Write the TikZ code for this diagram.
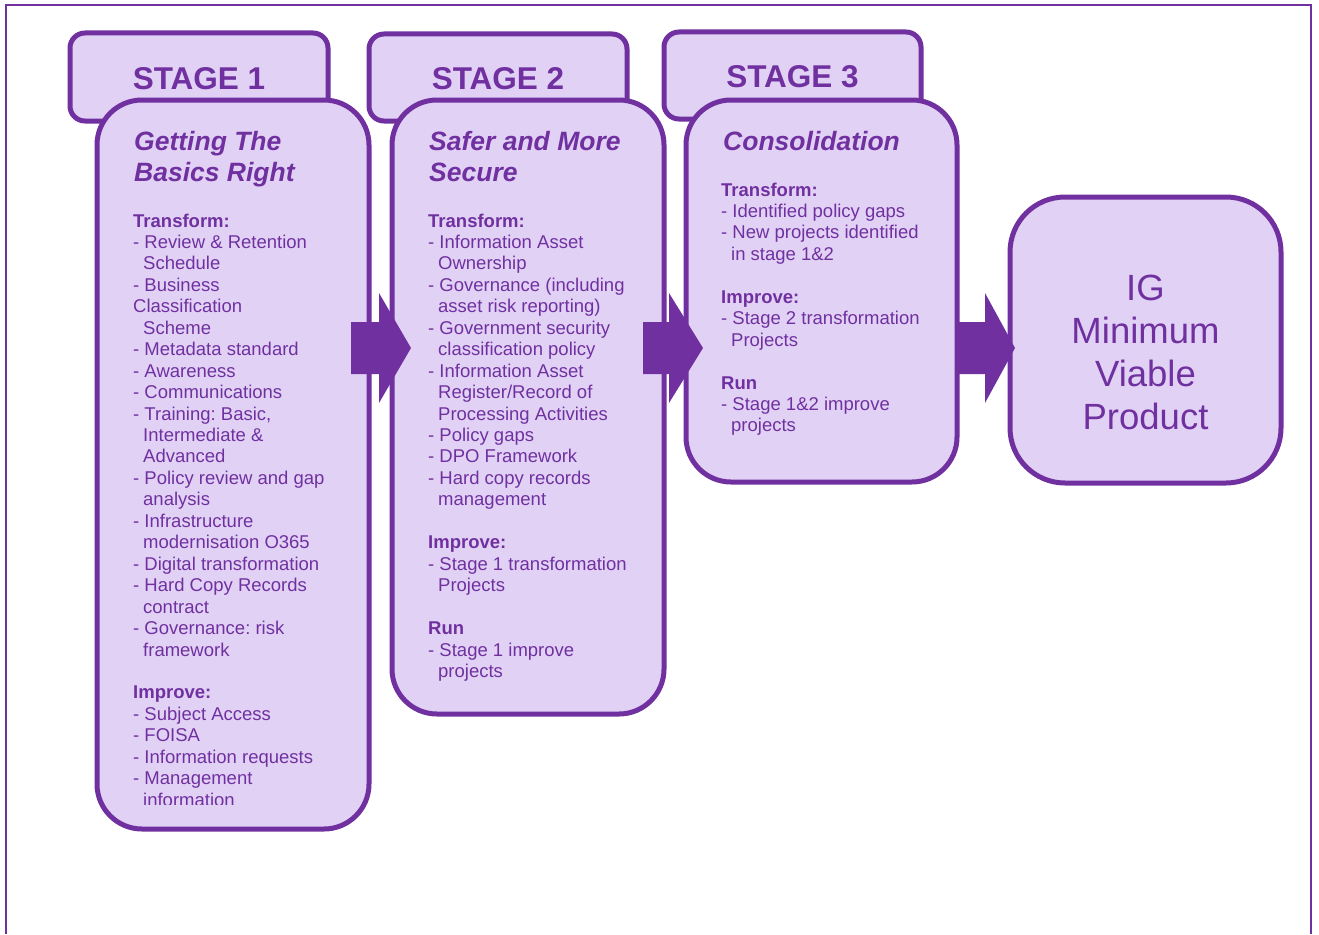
\documentclass[tikz,border=0pt]{standalone}
\usepackage{fontspec}
\setmainfont{Liberation Sans}
\frenchspacing
\definecolor{igpurple}{HTML}{7030A0}
\definecolor{iglav}{HTML}{E1D2F5}
\newcommand\ind{\hspace*{10pt}}
\newcommand\blockarrow[4]{\fill[igpurple] (#1,#4-26) -- (#2,#4-26) -- (#2,#4-55) -- (#3,#4) -- (#2,#4+55) -- (#2,#4+26) -- (#1,#4+26) -- cycle;}
\begin{document}
\begin{tikzpicture}[x=1pt,y=-1pt,
  tabbox/.style={draw=igpurple, fill=iglav, line width=5pt, rounded corners=15pt, anchor=north west, inner sep=0pt, outer sep=0pt},
  stagebox/.style={draw=igpurple, fill=iglav, line width=5pt, rounded corners=45pt, anchor=north west, inner sep=0pt, outer sep=0pt},
  stagelabel/.style={anchor=base, inner sep=0pt, text=igpurple, font=\fontsize{31.5}{36}\selectfont\bfseries},
  titletext/.style={anchor=base west, inner sep=0pt, text=igpurple, font=\fontsize{26.5}{31}\selectfont\bfseries\itshape},
  bodytext/.style={anchor=base west, inner sep=0pt, text=igpurple, font=\fontsize{18.5}{21.45}\selectfont\frenchspacing},
  goaltext/.style={anchor=base, inner sep=0pt, text=igpurple, font=\fontsize{36.5}{43}\selectfont}]
\useasboundingbox (0,0) rectangle (1319,934);
% outer frame
\draw[igpurple, line width=2.5pt] (6,934) -- (6,5) -- (1311,5) -- (1311,934);
% tabs
\node[tabbox, minimum width=258pt, minimum height=88pt] (tab1) at (70,33) {};
\node[tabbox, minimum width=258pt, minimum height=87pt] (tab2) at (369,34) {};
\node[tabbox, minimum width=257pt, minimum height=87pt] (tab3) at (664,32) {};
\node[stagelabel] (s1) at (199,89) {STAGE 1};
\node[stagelabel] (s2) at (498,89) {STAGE 2};
\node[stagelabel] (s3) at (792.5,87) {STAGE 3};
% main boxes
\node[stagebox, minimum width=272pt, minimum height=729pt] (box1) at (97,100) {};
\node[stagebox, minimum width=272pt, minimum height=614pt] (box2) at (392,100) {};
\node[stagebox, minimum width=271pt, minimum height=382pt] (box3) at (686,100) {};
\node[stagebox, rounded corners=55pt, minimum width=271pt, minimum height=286pt] (box4) at (1010,197) {};
% titles
\node[titletext] (t1) at (134,150) {\begin{tabular}[t]{@{}l@{}}Getting The\\Basics Right\end{tabular}};
\node[titletext] (t2) at (429,150) {\begin{tabular}[t]{@{}l@{}}Safer and More\\Secure\end{tabular}};
\node[titletext] (t3) at (723,150) {Consolidation};
% body text
\begin{scope}
\clip (0,0) rectangle (1319,804);
\node[bodytext] (b1) at (133,227) {\begin{tabular}[t]{@{}l@{}}
\textbf{Transform:}\\
- Review \& Retention\\
\ind Schedule\\
- Business\\
Classification\\
\ind Scheme\\
- Metadata standard\\
- Awareness\\
- Communications\\
- Training: Basic,\\
\ind Intermediate \&\\
\ind Advanced\\
- Policy review and gap\\
\ind analysis\\
- Infrastructure\\
\ind modernisation O365\\
- Digital transformation\\
- Hard Copy Records\\
\ind contract\\
- Governance: risk\\
\ind framework\\
\\
\textbf{Improve:}\\
- Subject Access\\
- FOISA\\
- Information requests\\
- Management\\
\ind information
\end{tabular}};
\end{scope}
\node[bodytext] (b2) at (428,227) {\begin{tabular}[t]{@{}l@{}}
\textbf{Transform:}\\
- Information Asset\\
\ind Ownership\\
- Governance (including\\
\ind asset risk reporting)\\
- Government security\\
\ind classification policy\\
- Information Asset\\
\ind Register/Record of\\
\ind Processing Activities\\
- Policy gaps\\
- DPO Framework\\
- Hard copy records\\
\ind management\\
\\
\textbf{Improve:}\\
- Stage 1 transformation\\
\ind Projects\\
\\
\textbf{Run}\\
- Stage 1 improve\\
\ind projects
\end{tabular}};
\node[bodytext] (b3) at (721,196) {\begin{tabular}[t]{@{}l@{}}
\textbf{Transform:}\\
- Identified policy gaps\\
- New projects identified\\
\ind in stage 1\&2\\
\\
\textbf{Improve:}\\
- Stage 2 transformation\\
\ind Projects\\
\\
\textbf{Run}\\
- Stage 1\&2 improve\\
\ind projects
\end{tabular}};
\node[goaltext] (g) at (1145.5,300) {\begin{tabular}[t]{@{}c@{}}IG\\Minimum\\Viable\\Product\end{tabular}};
% block arrows
\blockarrow{351}{379}{411}{348}
\blockarrow{643}{669}{703}{348}
\blockarrow{955}{985}{1015}{348}
\end{tikzpicture}
\end{document}
